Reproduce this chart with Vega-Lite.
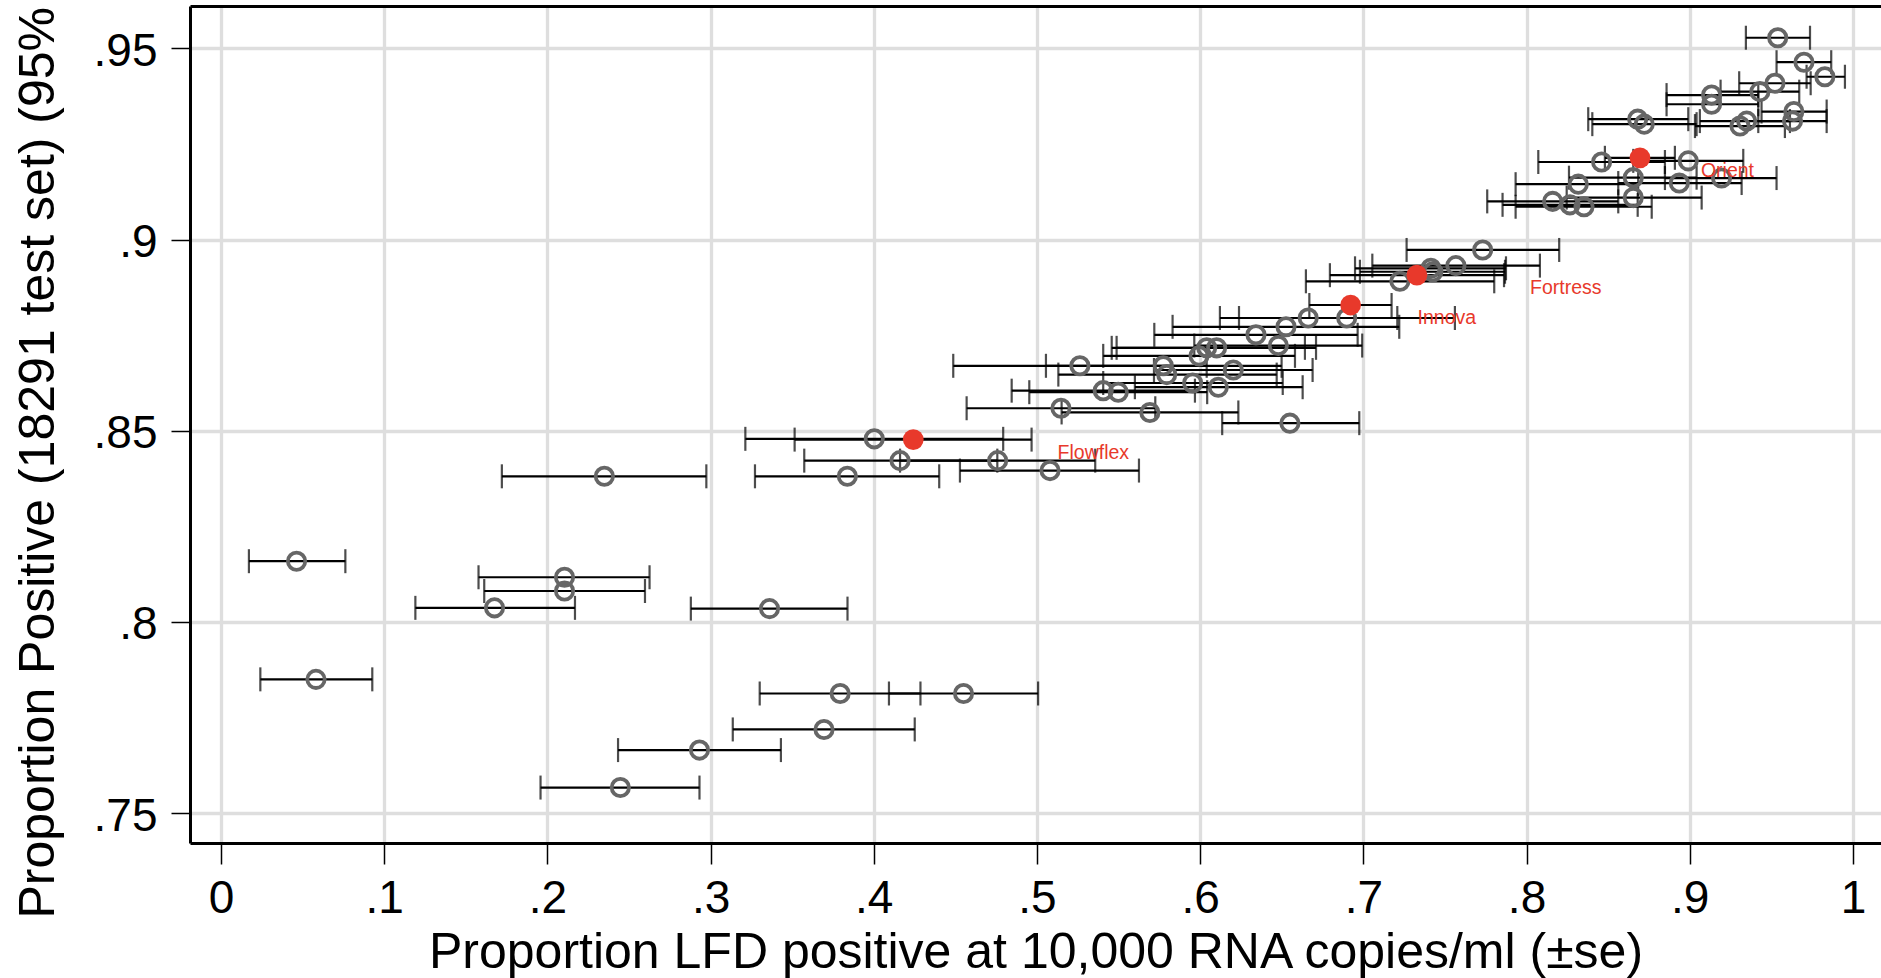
{
  "$schema": "https://vega.github.io/schema/vega-lite/v6.json",
  "autosize": {"type": "none"},
  "padding": {"left": 190, "top": 6, "right": 0, "bottom": 135},
  "width": 1691,
  "height": 837,
  "config": {
    "view": {"stroke": null},
    "font": "Liberation Sans",
    "axis": {"labelFont": "Liberation Sans", "titleFont": "Liberation Sans"}
  },
  "data": {
    "values": [
      {"x": 0.9539, "y": 0.9528, "lo": 0.9344, "hi": 0.9737, "g": "o", "lab": ""},
      {"x": 0.9700, "y": 0.9464, "lo": 0.9532, "hi": 0.9867, "g": "o", "lab": ""},
      {"x": 0.9828, "y": 0.9426, "lo": 0.9716, "hi": 0.9951, "g": "o", "lab": ""},
      {"x": 0.9522, "y": 0.9409, "lo": 0.9303, "hi": 0.9741, "g": "o", "lab": ""},
      {"x": 0.9430, "y": 0.9387, "lo": 0.9189, "hi": 0.9671, "g": "o", "lab": ""},
      {"x": 0.9134, "y": 0.9378, "lo": 0.8858, "hi": 0.9420, "g": "o", "lab": ""},
      {"x": 0.9134, "y": 0.9354, "lo": 0.8858, "hi": 0.9420, "g": "o", "lab": ""},
      {"x": 0.9638, "y": 0.9335, "lo": 0.9440, "hi": 0.9839, "g": "o", "lab": ""},
      {"x": 0.9630, "y": 0.9310, "lo": 0.9420, "hi": 0.9839, "g": "o", "lab": ""},
      {"x": 0.9349, "y": 0.9310, "lo": 0.9062, "hi": 0.9614, "g": "o", "lab": ""},
      {"x": 0.9308, "y": 0.9297, "lo": 0.9032, "hi": 0.9583, "g": "o", "lab": ""},
      {"x": 0.8681, "y": 0.9315, "lo": 0.8378, "hi": 0.8991, "g": "o", "lab": ""},
      {"x": 0.8721, "y": 0.9302, "lo": 0.8403, "hi": 0.9042, "g": "o", "lab": ""},
      {"x": 0.8460, "y": 0.9203, "lo": 0.8072, "hi": 0.8848, "g": "o", "lab": ""},
      {"x": 0.8991, "y": 0.9206, "lo": 0.8654, "hi": 0.9328, "g": "o", "lab": ""},
      {"x": 0.8654, "y": 0.9162, "lo": 0.8260, "hi": 0.9042, "g": "o", "lab": ""},
      {"x": 0.9195, "y": 0.9161, "lo": 0.8848, "hi": 0.9532, "g": "o", "lab": ""},
      {"x": 0.8936, "y": 0.9148, "lo": 0.8562, "hi": 0.9318, "g": "o", "lab": ""},
      {"x": 0.8317, "y": 0.9145, "lo": 0.7933, "hi": 0.8684, "g": "o", "lab": ""},
      {"x": 0.8654, "y": 0.9110, "lo": 0.8246, "hi": 0.9073, "g": "o", "lab": ""},
      {"x": 0.8160, "y": 0.9100, "lo": 0.7759, "hi": 0.8562, "g": "o", "lab": ""},
      {"x": 0.8266, "y": 0.9091, "lo": 0.7853, "hi": 0.8681, "g": "o", "lab": ""},
      {"x": 0.8352, "y": 0.9086, "lo": 0.7933, "hi": 0.8767, "g": "o", "lab": ""},
      {"x": 0.7731, "y": 0.8973, "lo": 0.7265, "hi": 0.8200, "g": "o", "lab": ""},
      {"x": 0.7567, "y": 0.8932, "lo": 0.7055, "hi": 0.8082, "g": "o", "lab": ""},
      {"x": 0.7414, "y": 0.8925, "lo": 0.6949, "hi": 0.7874, "g": "o", "lab": ""},
      {"x": 0.7426, "y": 0.8916, "lo": 0.6979, "hi": 0.7868, "g": "o", "lab": ""},
      {"x": 0.7224, "y": 0.8891, "lo": 0.6648, "hi": 0.7802, "g": "o", "lab": ""},
      {"x": 0.6898, "y": 0.8795, "lo": 0.6238, "hi": 0.7561, "g": "o", "lab": ""},
      {"x": 0.6662, "y": 0.8795, "lo": 0.6121, "hi": 0.7208, "g": "o", "lab": ""},
      {"x": 0.6526, "y": 0.8772, "lo": 0.5831, "hi": 0.7220, "g": "o", "lab": ""},
      {"x": 0.6342, "y": 0.8751, "lo": 0.5719, "hi": 0.6965, "g": "o", "lab": ""},
      {"x": 0.6479, "y": 0.8723, "lo": 0.5964, "hi": 0.6993, "g": "o", "lab": ""},
      {"x": 0.5993, "y": 0.8696, "lo": 0.5406, "hi": 0.6581, "g": "o", "lab": ""},
      {"x": 0.6040, "y": 0.8717, "lo": 0.5458, "hi": 0.6642, "g": "o", "lab": ""},
      {"x": 0.6101, "y": 0.8717, "lo": 0.5488, "hi": 0.6710, "g": "o", "lab": ""},
      {"x": 0.5263, "y": 0.8670, "lo": 0.4487, "hi": 0.6040, "g": "o", "lab": ""},
      {"x": 0.5774, "y": 0.8670, "lo": 0.5055, "hi": 0.6499, "g": "o", "lab": ""},
      {"x": 0.5795, "y": 0.8647, "lo": 0.5131, "hi": 0.6469, "g": "o", "lab": ""},
      {"x": 0.6203, "y": 0.8659, "lo": 0.5717, "hi": 0.6689, "g": "o", "lab": ""},
      {"x": 0.5954, "y": 0.8625, "lo": 0.5406, "hi": 0.6506, "g": "o", "lab": ""},
      {"x": 0.6111, "y": 0.8614, "lo": 0.5600, "hi": 0.6628, "g": "o", "lab": ""},
      {"x": 0.5406, "y": 0.8605, "lo": 0.4845, "hi": 0.5968, "g": "o", "lab": ""},
      {"x": 0.5498, "y": 0.8601, "lo": 0.4953, "hi": 0.6043, "g": "o", "lab": ""},
      {"x": 0.5147, "y": 0.8559, "lo": 0.4569, "hi": 0.5725, "g": "o", "lab": ""},
      {"x": 0.5692, "y": 0.8548, "lo": 0.5151, "hi": 0.6234, "g": "o", "lab": ""},
      {"x": 0.6550, "y": 0.8520, "lo": 0.6135, "hi": 0.6975, "g": "o", "lab": ""},
      {"x": 0.4003, "y": 0.8479, "lo": 0.3213, "hi": 0.4793, "g": "o", "lab": ""},
      {"x": 0.4161, "y": 0.8422, "lo": 0.3574, "hi": 0.4757, "g": "o", "lab": ""},
      {"x": 0.4759, "y": 0.8422, "lo": 0.4161, "hi": 0.5357, "g": "o", "lab": ""},
      {"x": 0.3838, "y": 0.8381, "lo": 0.3272, "hi": 0.4401, "g": "o", "lab": ""},
      {"x": 0.5080, "y": 0.8396, "lo": 0.4528, "hi": 0.5625, "g": "o", "lab": ""},
      {"x": 0.2349, "y": 0.8381, "lo": 0.1721, "hi": 0.2974, "g": "o", "lab": ""},
      {"x": 0.0463, "y": 0.8159, "lo": 0.0171, "hi": 0.0762, "g": "o", "lab": ""},
      {"x": 0.2105, "y": 0.8117, "lo": 0.1578, "hi": 0.2626, "g": "o", "lab": ""},
      {"x": 0.2105, "y": 0.8081, "lo": 0.1613, "hi": 0.2598, "g": "o", "lab": ""},
      {"x": 0.1676, "y": 0.8037, "lo": 0.1191, "hi": 0.2169, "g": "o", "lab": ""},
      {"x": 0.3361, "y": 0.8035, "lo": 0.2879, "hi": 0.3839, "g": "o", "lab": ""},
      {"x": 0.0582, "y": 0.7850, "lo": 0.0241, "hi": 0.0927, "g": "o", "lab": ""},
      {"x": 0.3794, "y": 0.7813, "lo": 0.3301, "hi": 0.4286, "g": "o", "lab": ""},
      {"x": 0.4550, "y": 0.7813, "lo": 0.4093, "hi": 0.5007, "g": "o", "lab": ""},
      {"x": 0.3695, "y": 0.7719, "lo": 0.3136, "hi": 0.4251, "g": "o", "lab": ""},
      {"x": 0.2932, "y": 0.7665, "lo": 0.2433, "hi": 0.3431, "g": "o", "lab": ""},
      {"x": 0.2447, "y": 0.7567, "lo": 0.1958, "hi": 0.2932, "g": "o", "lab": ""},
      {"x": 0.8695, "y": 0.9214, "lo": 0.8480, "hi": 0.8909, "g": "r", "lab": "Orient"},
      {"x": 0.7328, "y": 0.8907, "lo": 0.6795, "hi": 0.7862, "g": "r", "lab": "Fortress"},
      {"x": 0.6922, "y": 0.8829, "lo": 0.6669, "hi": 0.7173, "g": "r", "lab": "Innova"},
      {"x": 0.4242, "y": 0.8477, "lo": 0.3515, "hi": 0.4967, "g": "r", "lab": "Flowflex"}
    ]
  },
  "resolve": {"axis": {"x": "independent"}},
  "encoding": {
    "y": {
      "field": "y", "type": "quantitative",
      "scale": {"domain": [0.7422, 0.9611], "nice": false, "zero": false},
      "axis": {
        "values": [0.75, 0.8, 0.85, 0.9, 0.95],
        "labelExpr": "replace(format(datum.value, '~g'), '0.', '.')",
        "title": "Proportion Positive (18291 test set) (95%",
        "titleFontSize": 50, "titleFontWeight": "normal", "titleColor": "#000000",
        "titleAngle": 270, "titleAlign": "left", "titleBaseline": "alphabetic",
        "titleX": -137, "titleY": 912,
        "labelFontSize": 46, "labelColor": "#000000", "labelPadding": 14,
        "labelBaseline": "middle", "labelOffset": 3,
        "labelOverlap": false, "labelFlush": false,
        "tickSize": 19, "tickWidth": 1.5, "tickColor": "#000000",
        "domainColor": "#000000", "domainWidth": 3,
        "grid": true, "gridColor": "#dedede", "gridWidth": 3.3
      }
    }
  },
  "layer": [
    {
      "mark": {"type": "rule", "color": "#000000", "strokeWidth": 2.2},
      "encoding": {
        "x": {
          "field": "lo", "type": "quantitative",
          "scale": {"domain": [-0.019, 1.0172], "nice": false, "zero": false},
          "axis": {
            "orient": "bottom",
            "values": [0, 0.1, 0.2, 0.3, 0.4, 0.5, 0.6, 0.7, 0.8, 0.9, 1],
            "labelExpr": "replace(format(datum.value, '~g'), '0.', '.')",
            "title": "Proportion LFD positive at 10,000 RNA copies/ml (±se)",
            "titleFontSize": 50, "titleFontWeight": "normal", "titleColor": "#000000",
            "titleBaseline": "alphabetic", "titleY": 124.5,
            "labelFontSize": 46, "labelColor": "#000000", "labelPadding": 12,
            "labelFlush": false, "labelOverlap": false,
            "tickSize": 21, "tickWidth": 1.5, "tickColor": "#000000",
            "domainColor": "#000000", "domainWidth": 3,
            "grid": true, "gridColor": "#dedede", "gridWidth": 3.3
          }
        },
        "x2": {"field": "hi"}
      }
    },
    {
      "mark": {"type": "tick", "orient": "vertical", "color": "#000000", "size": 24, "thickness": 2.2},
      "encoding": {
        "x": {
          "field": "lo", "type": "quantitative",
          "axis": {"orient": "top", "domain": true, "domainColor": "#000000", "domainWidth": 3,
                   "ticks": false, "labels": false, "grid": false, "title": null}
        }
      }
    },
    {
      "mark": {"type": "tick", "orient": "vertical", "color": "#000000", "size": 24, "thickness": 2.2},
      "encoding": {
        "x": {"field": "hi", "type": "quantitative", "axis": null}
      }
    },
    {
      "transform": [{"filter": "datum.g == 'o'"}],
      "mark": {"type": "point", "shape": "circle", "filled": false, "stroke": "#666666", "strokeWidth": 3.8, "size": 300, "opacity": 1},
      "encoding": {
        "x": {"field": "x", "type": "quantitative", "axis": null}
      }
    },
    {
      "transform": [{"filter": "datum.g == 'r'"}],
      "mark": {"type": "point", "shape": "circle", "filled": true, "fill": "#e8392b", "strokeWidth": 0, "size": 430, "opacity": 1},
      "encoding": {
        "x": {"field": "x", "type": "quantitative", "axis": null}
      }
    },
    {
      "transform": [{"filter": "datum.g == 'r'"}],
      "mark": {"type": "text", "align": "left", "baseline": "middle", "dx": 26, "dy": 13, "fontSize": 19.5, "color": "#e8392b", "font": "Liberation Sans"},
      "encoding": {
        "x": {"field": "hi", "type": "quantitative", "axis": null},
        "text": {"field": "lab"}
      }
    }
  ]
}
